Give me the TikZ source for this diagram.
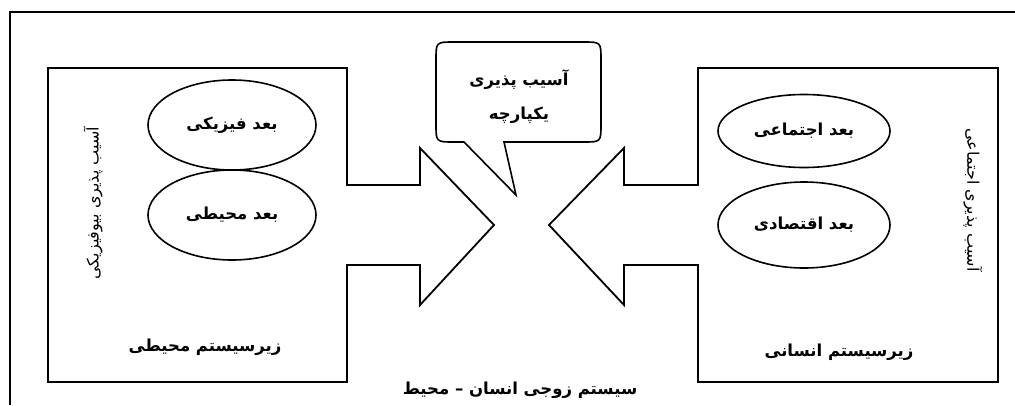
\documentclass[tikz,border=0pt]{standalone}
\usepackage{fontspec}
\newfontfamily\fa[Script=Arabic]{DejaVu Sans}
\TeXXeTstate=1
\usetikzlibrary{shapes.geometric}
\tikzset{
  shapeline/.style={draw=black, line width=1.8pt, line join=miter},
  dim/.style={ellipse, draw=black, line width=1.6pt, inner sep=0pt},
  bold/.style={font=\fa\bfseries\fontsize{16.5}{20}\selectfont},
  thin/.style={font=\fa\fontsize{16}{19}\selectfont},
}
\begin{document}
\begin{tikzpicture}[x=1pt,y=-1pt]
\useasboundingbox[fill=white] (0,0) rectangle (1015,405);
% outer frame
\draw[line width=2.4pt] (10,405) -- (10,12) -- (1015,12);
% left subsystem with arrow
\draw[shapeline] (48,68) -- (347,68) -- (347,185) -- (420,185) -- (420,148) -- (494,225) -- (420,305) -- (420,265) -- (347,265) -- (347,382) -- (48,382) -- cycle;
% right subsystem with arrow
\draw[shapeline] (998,68) -- (698,68) -- (698,185) -- (624,185) -- (624,148) -- (549,225) -- (624,305) -- (624,265) -- (698,265) -- (698,382) -- (998,382) -- cycle;
% callout
\draw[line width=1.6pt] (504,142) -- (583,142) .. controls (601,142) .. (601,124) -- (601,60) .. controls (601,42) .. (583,42) -- (454,42) .. controls (436,42) .. (436,60) -- (436,124) .. controls (436,142) .. (454,142) -- (464,142) -- (516,195) -- cycle;
\node[bold, align=center] (callout) at (519,97) {{\beginR آسیب پذیری\endR}\\[14pt]{\beginR یکپارچه\endR}};
% left ellipses
\node[dim, minimum width=168pt, minimum height=90pt] (phys) at (232,125) {};
\node[bold] (physT) at (phys.center) {\beginR بعد فیزیکی\endR};
\node[dim, minimum width=168pt, minimum height=90pt] (env) at (232,215) {};
\node[bold] (envT) at (env.center) {\beginR بعد محیطی\endR};
% right ellipses
\node[dim, minimum width=172pt, minimum height=73pt] (soc) at (804,131) {};
\node[bold] (socT) at (soc.center) {\beginR بعد اجتماعی\endR};
\node[dim, minimum width=172pt, minimum height=86pt] (eco) at (804,225) {};
\node[bold] (ecoT) at (eco.center) {\beginR بعد اقتصادی\endR};
% subsystem labels
\node[bold] (envsub) at (205,347) {\beginR زیرسیستم محیطی\endR};
\node[bold] (humsub) at (839,352) {\beginR زیرسیستم انسانی\endR};
% vertical labels
\node[thin, rotate=90] (bio) at (93,203) {\beginR آسیب پذیری بیوفیزیکی\endR};
\node[thin, rotate=-90] (socv) at (973,200) {\beginR آسیب پذیری اجتماعی\endR};
% title
\node[bold] (title) at (520,390) {\beginR سیستم زوجی انسان – محیط\endR};
\end{tikzpicture}
\end{document}
